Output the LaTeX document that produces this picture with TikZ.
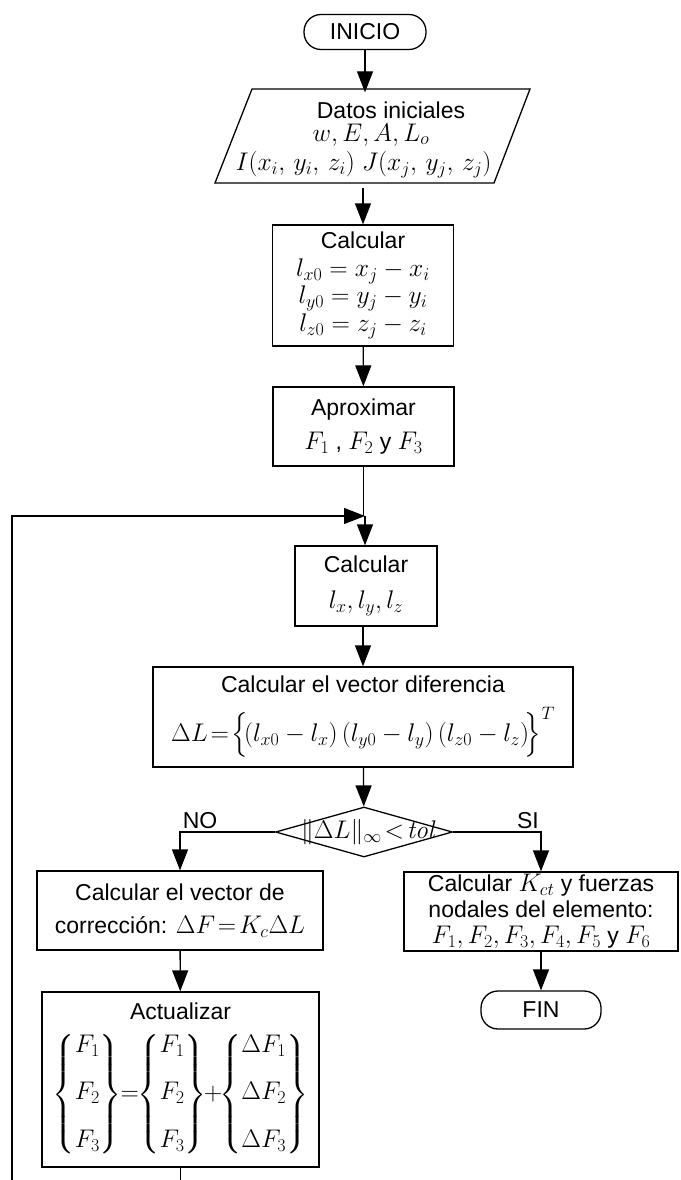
\RequirePackage{fix-cm}
\documentclass[tikz,border=0pt]{standalone}
\usepackage{amsmath}
\usepackage[no-math]{fontspec}
\setmainfont{Liberation Sans}
\DeclareMathSizes{23}{25.5}{18}{14}
\usetikzlibrary{arrows.meta,shapes.geometric}
\tikzset{
  box/.style={draw, align=center, inner sep=0pt},
  term/.style={draw, rounded corners=17pt, inner sep=0pt},
  conn/.style={-{Triangle[length=21pt,width=16pt]}},
  plain/.style={draw=none, align=center, inner sep=0pt},
}
\begin{document}
\begin{tikzpicture}[x=1pt, y=-1pt, line width=1.3pt, font=\fontsize{23}{27.5}\selectfont]
\useasboundingbox (0,0) rectangle (680,1180);
\clip (0,0) rectangle (680,1180);

% nodes
\node[term, minimum width=122pt, minimum height=35pt] (ini) at (365,32) {INICIO};

\draw (252,89) -- (530,89) -- (494,183) -- (215,183) -- cycle;
\node[plain, minimum width=240pt, minimum height=94pt] (datos) at (371,140)
  {\rule{40pt}{0pt}Datos iniciales\\[-5pt]
   $w, E, A, L_o$\\[2pt]
   $I(x_i,\,y_i,\,z_i)\;J(x_j,\,y_j,\,z_j)$\rule{15pt}{0pt}};

\node[box, minimum width=181pt, minimum height=121pt] (calc1) at (363,285.5)
  {Calcular\\ $l_{x0}=x_j-x_i$\\ $l_{y0}=y_j-y_i$\\ $l_{z0}=z_j-z_i$};

\node[box, minimum width=181pt, minimum height=79pt] (aprox) at (363.5,426.5)
  {Aproximar\\[7pt] $F_1$ , $F_2$ y $F_3$};

\coordinate (J) at (365,516);

\node[box, minimum width=142pt, minimum height=80pt] (calcl) at (366,586)
  {Calcular\\[9pt] $l_x, l_y, l_z$};

\node[box, minimum width=420pt, minimum height=100pt] (diff) at (363,717)
  {Calcular el vector diferencia\\[13pt]
   $\Delta L \!=\!\Big\{\!(l_{x0}-l_x)\,(l_{y0}-l_y)\,(l_{z0}-l_z)\!\Big\}^{T}$};

\node[diamond, draw, minimum width=177pt, minimum height=50pt, inner sep=0pt] (dia) at (364,832) {};
\node[plain] (diatext) at (369,832) {$\|\Delta L\|_\infty\!<\!\mathit{tol}$};

\node[box, minimum width=286pt, minimum height=79pt] (lbox) at (180,910.5)
  {Calcular el vector de\\[5pt] correcci\'on: $\Delta F \!=\! K_c\Delta L$};

\node[box, minimum width=274pt, minimum height=79pt, font=\fontsize{23}{26}\selectfont] (rbox) at (541,911.5)
  {Calcular $K_{ct}$ y fuerzas\\ nodales del elemento:\\ $F_1, F_2,F_3, F_4, F_5$ y $F_6$};

\node[term, minimum width=120pt, minimum height=38pt] (fin) at (541,1010) {FIN};

\node[box, minimum width=277pt, minimum height=175pt] (act) at (180.5,1079.5)
  {Actualizar\\[12pt]
   $\begin{Bmatrix}F_1\\[20pt]F_2\\[20pt]F_3\end{Bmatrix}\!\!=\!\!
    \begin{Bmatrix}F_1\\[20pt]F_2\\[20pt]F_3\end{Bmatrix}\!\!+\!\!
    \begin{Bmatrix}\Delta F_1\\[20pt]\Delta F_2\\[20pt]\Delta F_3\end{Bmatrix}$};

\node[plain] (no) at (200,821) {NO};
\node[plain] (si) at (528,821) {SI};

\coordinate (loopL) at (12,1200);

% connectors
\draw[conn] (ini.south) -- (ini.south |- datos.north);
\draw[conn] (calc1.north |- datos.south) -- (calc1.north);
\draw[conn] (calc1) -- (aprox);
\draw (aprox.south) -- (aprox.south |- J);
\draw[conn] (J) -- (J |- calcl.north);
\draw[conn] (calcl.south -| diff.north) -- (diff.north);
\draw[conn] (diff) -- (dia);
\draw[conn] (dia.west) -| (lbox.north);
\draw[conn] (dia.east) -| (rbox.north);
\draw[conn] (lbox) -- (act);
\draw[conn] (rbox) -- (fin);
\draw[conn] (act.south) -- (act.south |- loopL) -- (loopL) |- (J);
\end{tikzpicture}
\end{document}
